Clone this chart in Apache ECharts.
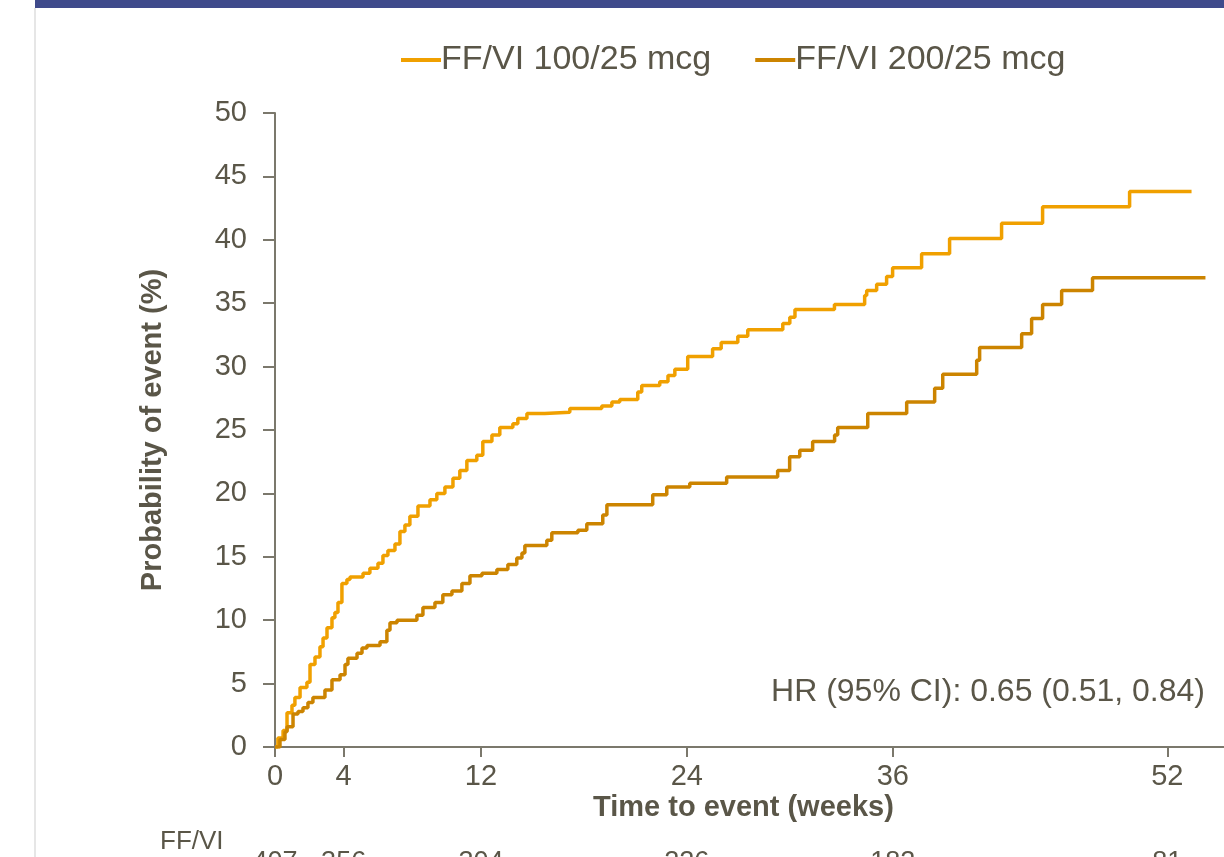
<!DOCTYPE html>
<html>
<head>
<meta charset="utf-8">
<script src="https://cdn.jsdelivr.net/npm/echarts@6/dist/echarts.min.js"></script>
<style>
  html, body { margin: 0; padding: 0; background: #fff; }
  #chart { width: 1224px; height: 857px; }
</style>
</head>
<body>
<div id="chart"></div>
<script>
// 数据：Kaplan-Meier 累积事件概率 (周, %)
const seriesNames = ['FF/VI 100/25 mcg', 'FF/VI 200/25 mcg'];

const low = [
  [0, 0], [0.17, 0.7], [0.47, 1.3], [0.70, 2.7], [0.99, 3.3], [1.16, 3.9], [1.46, 4.7],
  [1.86, 5.1], [2.04, 6.5], [2.33, 7.1], [2.62, 7.9], [2.80, 8.6], [3.03, 9.4], [3.32, 10.2],
  [3.49, 10.6], [3.67, 11.4], [3.90, 12.9], [4.19, 13.2], [4.37, 13.4], [5.13, 13.7],
  [5.53, 14.1], [6.00, 14.5], [6.29, 15.1], [6.58, 15.5], [6.99, 16.0], [7.28, 17.0],
  [7.57, 17.5], [7.86, 18.2], [8.33, 19.0], [9.03, 19.5], [9.43, 20.0], [9.90, 20.5],
  [10.37, 21.2], [10.77, 21.8], [11.18, 22.6], [11.76, 23.0], [12.11, 24.1], [12.64, 24.6],
  [13.10, 25.2], [13.86, 25.5], [14.15, 25.9], [14.68, 26.3], [15.72, 26.4], [17.18, 26.7],
  [19.04, 26.9], [19.63, 27.2], [20.09, 27.4], [21.14, 28.0], [21.37, 28.5], [22.42, 28.8],
  [22.9, 29.3], [23.3, 29.8], [24.05, 30.8], [25.5, 31.4], [26.0, 31.9], [26.97, 32.4],
  [27.55, 32.9], [29.59, 33.4], [30.0, 33.9], [30.3, 34.5], [32.6, 34.9], [34.36, 35.6],
  [34.48, 36.0], [35.06, 36.5], [35.64, 37.1], [35.99, 37.8], [37.68, 38.9], [39.31, 40.1],
  [42.34, 41.3], [44.73, 42.6], [49.80, 43.8], [53.41, 43.8]
];

const high = [
  [0, 0], [0.29, 0.6], [0.58, 1.2], [0.70, 1.6], [1.05, 2.6], [1.34, 2.8], [1.63, 3.1],
  [1.92, 3.5], [2.21, 3.9], [2.91, 4.5], [3.32, 5.3], [3.79, 5.7], [4.08, 6.5], [4.25, 7.0],
  [4.78, 7.4], [5.07, 7.8], [5.36, 8.0], [6.12, 8.3], [6.52, 9.2], [6.70, 9.8], [7.11, 10.0],
  [8.27, 10.4], [8.62, 11.0], [9.32, 11.4], [9.78, 12.0], [10.31, 12.3], [10.89, 12.9],
  [11.36, 13.5], [12.06, 13.7], [12.93, 14.0], [13.57, 14.4], [14.09, 14.9], [14.39, 15.3],
  [14.56, 15.9], [15.84, 16.3], [16.13, 16.9], [17.65, 17.1], [18.17, 17.6], [19.10, 18.3],
  [19.34, 19.1], [22.01, 19.9], [22.83, 20.5], [24.17, 20.8], [26.32, 21.3], [29.29, 21.8],
  [29.99, 22.9], [30.58, 23.4], [31.33, 24.1], [32.61, 24.6], [32.79, 25.2], [34.54, 26.3],
  [36.81, 27.2], [38.44, 28.3], [38.91, 29.4], [40.89, 30.5], [41.06, 31.5], [43.51, 32.6],
  [44.09, 33.8], [44.73, 34.9], [45.84, 36.0], [47.64, 37.0], [54.22, 37.0]
];

const xTicks = [0, 4, 12, 24, 36, 52];
const riskCounts = [407, 356, 304, 226, 182, 81];
const riskLabel = 'FF/VI';
const hrText = 'HR (95% CI): 0.65 (0.51, 0.84)';

const colors = ['#f0a000', '#cc8400'];
const textColor = '#5a5648';
const axisColor = '#7b786c';
const FONT = '"Liberation Sans", Arial, sans-serif';

const chart = echarts.init(document.getElementById('chart'));

const option = {
  animation: false,
  textStyle: { fontFamily: FONT },
  grid: { left: 275, top: 113, width: 961, height: 634, outerBoundsMode: 'none', containLabel: false },
  legend: {
    data: seriesNames,
    left: 396,
    top: 38,
    icon: 'rect',
    itemWidth: 40,
    itemHeight: 4,
    itemGap: 44,
    textStyle: { fontSize: 34, color: textColor, fontFamily: FONT, padding: [0, 0, 0, -5] }
  },
  xAxis: [{
    type: 'value',
    min: 0,
    max: 56,
    splitLine: { show: false },
    axisLine: { show: true, lineStyle: { color: axisColor, width: 2 } },
    axisTick: { show: true, customValues: xTicks, length: 10, lineStyle: { color: axisColor, width: 2 } },
    axisLabel: { customValues: xTicks, fontSize: 29, color: textColor, margin: 15 }
  }, {
    // 风险人数行
    type: 'value',
    position: 'bottom',
    offset: 102,
    min: 0,
    max: 56,
    splitLine: { show: false },
    axisLine: { show: false },
    axisTick: { show: false },
    axisLabel: {
      customValues: xTicks,
      fontSize: 27,
      color: textColor,
      margin: 0,
      formatter: v => String(riskCounts[xTicks.indexOf(v)])
    }
  }],
  yAxis: {
    type: 'value',
    min: 0,
    max: 50,
    interval: 5,
    name: 'Probability of event (%)',
    nameLocation: 'middle',
    nameGap: 108,
    nameTextStyle: { fontSize: 29, fontWeight: 'bold', color: textColor },
    splitLine: { show: false },
    axisLine: { show: true, lineStyle: { color: axisColor, width: 2 } },
    axisTick: { show: true, inside: false, length: 12, lineStyle: { color: axisColor, width: 2 } },
    axisLabel: { fontSize: 29, color: textColor, margin: 28 }
  },
  series: [
    {
      name: seriesNames[0], type: 'line', step: 'end', data: low,
      showSymbol: false, symbol: 'none',
      lineStyle: { color: colors[0], width: 3.5 }, itemStyle: { color: colors[0] }
    },
    {
      name: seriesNames[1], type: 'line', step: 'end', data: high,
      showSymbol: false, symbol: 'none',
      lineStyle: { color: colors[1], width: 3.5 }, itemStyle: { color: colors[1] }
    }
  ],
  graphic: [
    { type: 'rect', left: 35, top: 0, shape: { width: 1189, height: 8 }, style: { fill: '#3f4a8b' } },
    { type: 'rect', left: 34, top: 8, shape: { width: 2, height: 849 }, style: { fill: '#e6e6e6' } },
    {
      type: 'text', right: 19, top: 676,
      style: { text: hrText, fontSize: 32, fill: textColor, fontFamily: FONT }
    },
    {
      type: 'text', left: 593, top: 793,
      style: { text: 'Time to event (weeks)', fontSize: 29, fontWeight: 'bold', fill: textColor, fontFamily: FONT }
    },
    {
      type: 'text', left: 160, top: 829,
      style: { text: riskLabel, fontSize: 26, fill: textColor, fontFamily: FONT }
    }
  ]
};

chart.setOption(option);
</script>
</body>
</html>
